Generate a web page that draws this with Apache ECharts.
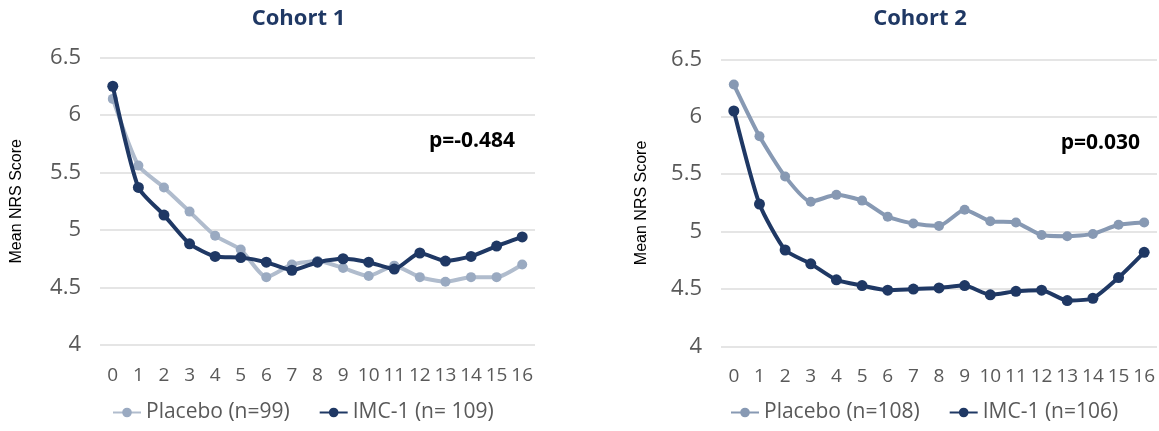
<!DOCTYPE html>
<html>
<head>
<meta charset="utf-8">
<script src="https://cdn.jsdelivr.net/npm/echarts@6/dist/echarts.min.js"></script>
<style>
html,body{margin:0;padding:0;background:#ffffff;}
#chart{width:1159px;height:431px;}
</style>
</head>
<body>
<div id="chart"></div>
<script>
// ---- data ----
const weeks = ['0','1','2','3','4','5','6','7','8','9','10','11','12','13','14','15','16'];
const yMin = 4, yMax = 6.5, yStep = 0.5;
const yAxisName = 'Mean NRS Score';
const titles = ['Cohort 1', 'Cohort 2'];
const pValues = ['p=-0.484', 'p=0.030'];
const cohort1Names = ['Placebo (n=99)', 'IMC-1 (n= 109)'];
const cohort2Names = ['Placebo (n=108)', 'IMC-1 (n=106)'];
const cohort1Placebo = [6.14, 5.56, 5.37, 5.16, 4.95, 4.83, 4.59, 4.70, 4.73, 4.67, 4.60, 4.69, 4.59, 4.55, 4.59, 4.59, 4.70];
const cohort1Imc     = [6.25, 5.37, 5.13, 4.88, 4.77, 4.76, 4.72, 4.65, 4.72, 4.75, 4.72, 4.66, 4.80, 4.73, 4.77, 4.86, 4.94];
const cohort2Placebo = [6.28, 5.83, 5.48, 5.26, 5.32, 5.27, 5.13, 5.07, 5.05, 5.19, 5.09, 5.08, 4.97, 4.96, 4.98, 5.06, 5.08];
const cohort2Imc     = [6.05, 5.24, 4.84, 4.72, 4.58, 4.53, 4.49, 4.50, 4.51, 4.53, 4.45, 4.48, 4.49, 4.40, 4.42, 4.60, 4.82];

// ---- styles ----
const FONT = '"Open Sans", "Liberation Sans", sans-serif';
const NAVY = '#1F3864';
const GREY_TXT = '#595959';
const PLACEBO1_LINE = '#B0BCCD';
const PLACEBO1_DOT = '#9AAAC1';
const PLACEBO2 = '#8799B3';

const chart = echarts.init(document.getElementById('chart'), null, {renderer: 'canvas'});

function xAxis(gridIndex) {
  return {
    type: 'category', gridIndex: gridIndex, data: weeks, boundaryGap: true,
    axisLine: {show: false}, axisTick: {show: false},
    axisLabel: {interval: 0, color: GREY_TXT, fontFamily: FONT, fontSize: 19, margin: 21},
    splitLine: {show: false}
  };
}
function yAxis(gridIndex, nameGap) {
  return {
    type: 'value', gridIndex: gridIndex, min: yMin, max: yMax, interval: yStep,
    name: yAxisName, nameLocation: 'middle', nameRotate: 90, nameGap: nameGap,
    nameTextStyle: {color: '#000000', fontFamily: '"Liberation Sans", Arial, sans-serif', fontSize: 16},
    axisLine: {show: false}, axisTick: {show: false},
    axisLabel: {color: GREY_TXT, fontFamily: FONT, fontSize: 22, margin: 19},
    splitLine: {show: true, lineStyle: {color: '#DCDCDC', width: 1.5}}
  };
}
function lineSeries(name, data, idx, lineColor, dotColor, size, z) {
  return {
    type: 'line', name: name, data: data, xAxisIndex: idx, yAxisIndex: idx,
    symbol: 'circle', symbolSize: size, smooth: 0.2, z: z,
    lineStyle: {color: lineColor, width: 4},
    itemStyle: {color: dotColor},
    emphasis: {disabled: true}
  };
}
function legend(names, left) {
  return {
    data: names, left: left, top: 402, padding: 0, itemGap: 29,
    itemWidth: 28, itemHeight: 12,
    textStyle: {color: GREY_TXT, fontFamily: FONT, fontSize: 21},
    selectedMode: false
  };
}

const option = {
  animation: false,
  backgroundColor: '#ffffff',
  grid: [
    {left: 100, right: 1159 - 535, top: 57.5, bottom: 431 - 345, outerBoundsMode: 'none'},
    {left: 721, right: 2, top: 59.3, bottom: 431 - 346.5, outerBoundsMode: 'none'}
  ],
  xAxis: [xAxis(0), xAxis(1)],
  yAxis: [yAxis(0, 75), yAxis(1, 71)],
  legend: [legend(cohort1Names, 112), legend(cohort2Names, 730)],
  series: [
    lineSeries(cohort1Names[0], cohort1Placebo, 0, PLACEBO1_LINE, PLACEBO1_DOT, 10, 2),
    lineSeries(cohort1Names[1], cohort1Imc, 0, NAVY, NAVY, 11, 3),
    lineSeries(cohort2Names[0], cohort2Placebo, 1, PLACEBO2, PLACEBO2, 10, 2),
    lineSeries(cohort2Names[1], cohort2Imc, 1, NAVY, NAVY, 11, 3)
  ],
  graphic: [
    {type: 'text', x: 298.5, y: 19, style: {text: titles[0], fill: NAVY, font: 'bold 22px ' + FONT, textAlign: 'center', textVerticalAlign: 'middle'}},
    {type: 'text', x: 920, y: 19, style: {text: titles[1], fill: NAVY, font: 'bold 22px ' + FONT, textAlign: 'center', textVerticalAlign: 'middle'}},
    {type: 'text', x: 515, y: 141, style: {text: pValues[0], fill: '#000000', font: 'bold 21px ' + FONT, textAlign: 'right', textVerticalAlign: 'middle'}},
    {type: 'text', x: 1140, y: 143, style: {text: pValues[1], fill: '#000000', font: 'bold 21px ' + FONT, textAlign: 'right', textVerticalAlign: 'middle'}}
  ]
};
chart.setOption(option);
</script>
</body>
</html>
